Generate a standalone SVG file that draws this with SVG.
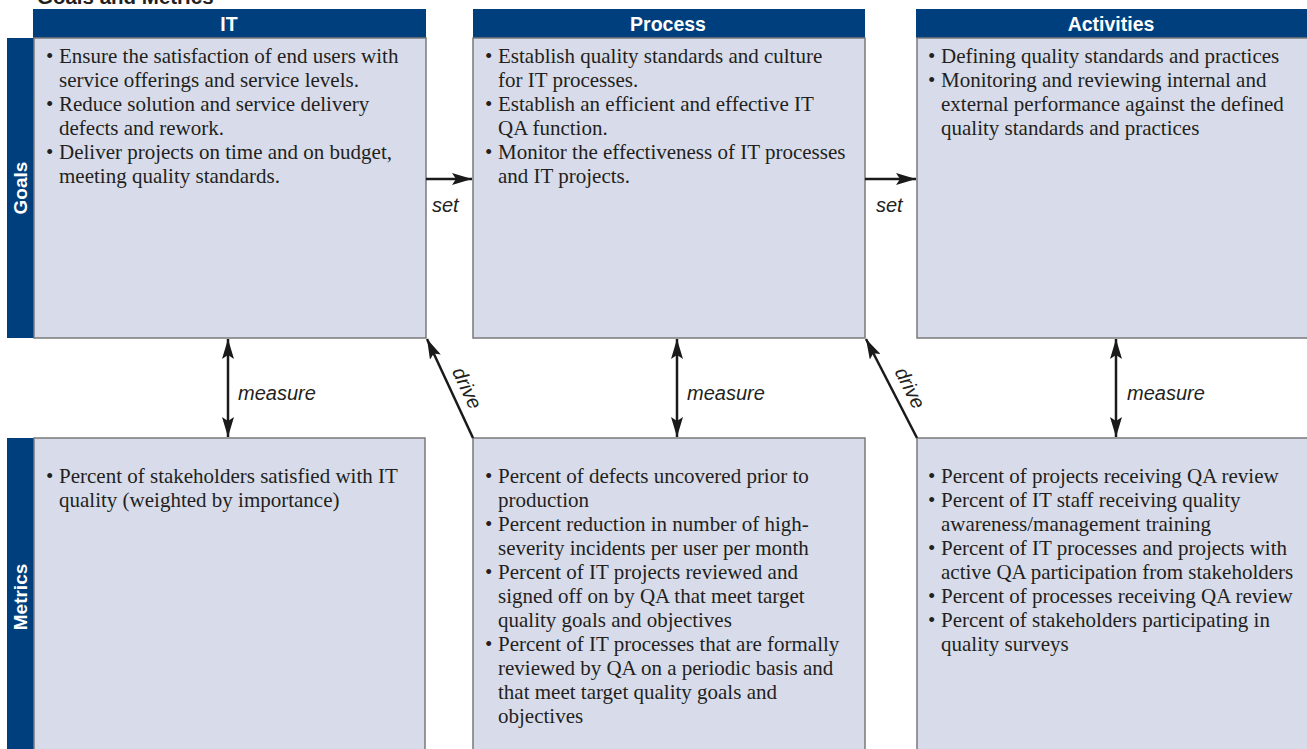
<svg xmlns="http://www.w3.org/2000/svg" width="1307" height="749" viewBox="0 0 1307 749">
<defs>
<style>
.hdr{fill:#003f7d}
.box{fill:#d8dcea;stroke:#7a7a7a;stroke-width:1.5}
.ht{font-family:"Liberation Sans",Arial,sans-serif;font-weight:bold;font-size:19.5px;fill:#fff;text-anchor:middle}
.side{font-family:"Liberation Sans",Arial,sans-serif;font-weight:bold;font-size:19px;fill:#fff;text-anchor:middle}
.bt{font-family:"Liberation Serif","Times New Roman",serif;font-size:21px;fill:#231f20}
.lbl{font-family:"Liberation Sans",Arial,sans-serif;font-style:italic;font-size:20px;fill:#231f20}
.ln{stroke:#1a1a1a;stroke-width:2.5;fill:none}
</style>
<marker id="ah" viewBox="0 0 20 12" refX="20" refY="6" markerWidth="20" markerHeight="12" markerUnits="userSpaceOnUse" orient="auto-start-reverse">
<path d="M0,0 L20,6 L0,12 L4,6 Z" fill="#1a1a1a"/>
</marker>
</defs>
<rect width="1307" height="749" fill="#fff"/>
<text x="37" y="4" font-family="Liberation Sans,Arial,sans-serif" font-weight="bold" font-size="20.5" fill="#231f20">Goals and Metrics</text>

<g id="side-goals"><rect x="7" y="38" width="27" height="300" class="hdr"/><text class="side" transform="translate(27,188) rotate(-90)">Goals</text></g>
<g id="side-metrics"><rect x="7" y="438" width="27" height="311" class="hdr"/><text class="side" transform="translate(27,597) rotate(-90)">Metrics</text></g>

<g id="hdr-it"><rect x="33" y="9" width="393" height="29" class="hdr"/><text class="ht" x="229" y="30.5">IT</text></g>
<g id="hdr-process"><rect x="473" y="9" width="392" height="29" class="hdr"/><text class="ht" x="668" y="30.5">Process</text></g>
<g id="hdr-activities"><rect x="916" y="9" width="391" height="29" class="hdr"/><text class="ht" x="1111" y="30.5">Activities</text></g>

<g id="goals-it"><rect x="34" y="38" width="392" height="300" class="box"/>
<text class="bt"><tspan x="46" y="63">•</tspan><tspan x="59">Ensure the satisfaction of end users with</tspan><tspan x="59" y="87">service offerings and service levels.</tspan><tspan x="46" y="111">•</tspan><tspan x="59">Reduce solution and service delivery</tspan><tspan x="59" y="135">defects and rework.</tspan><tspan x="46" y="159">•</tspan><tspan x="59">Deliver projects on time and on budget,</tspan><tspan x="59" y="183">meeting quality standards.</tspan></text></g>

<g id="goals-process"><rect x="473" y="38" width="392" height="300" class="box"/>
<text class="bt"><tspan x="485" y="63">•</tspan><tspan x="498">Establish quality standards and culture</tspan><tspan x="498" y="87">for IT processes.</tspan><tspan x="485" y="111">•</tspan><tspan x="498">Establish an efficient and effective IT</tspan><tspan x="498" y="135">QA function.</tspan><tspan x="485" y="159">•</tspan><tspan x="498">Monitor the effectiveness of IT processes</tspan><tspan x="498" y="183">and IT projects.</tspan></text></g>

<g id="goals-activities"><rect x="917" y="38" width="395" height="300" class="box"/>
<text class="bt"><tspan x="928" y="63">•</tspan><tspan x="941">Defining quality standards and practices</tspan><tspan x="928" y="87">•</tspan><tspan x="941">Monitoring and reviewing internal and</tspan><tspan x="941" y="111">external performance against the defined</tspan><tspan x="941" y="135">quality standards and practices</tspan></text></g>

<g id="metrics-it"><rect x="34" y="438" width="391" height="320" class="box"/>
<text class="bt"><tspan x="46" y="483">•</tspan><tspan x="59">Percent of stakeholders satisfied with IT</tspan><tspan x="59" y="507">quality (weighted by importance)</tspan></text></g>

<g id="metrics-process"><rect x="473" y="438" width="392" height="320" class="box"/>
<text class="bt"><tspan x="485" y="483">•</tspan><tspan x="498">Percent of defects uncovered prior to</tspan><tspan x="498" y="507">production</tspan><tspan x="485" y="531">•</tspan><tspan x="498">Percent reduction in number of high-</tspan><tspan x="498" y="555">severity incidents per user per month</tspan><tspan x="485" y="579">•</tspan><tspan x="498">Percent of IT projects reviewed and</tspan><tspan x="498" y="603">signed off on by QA that meet target</tspan><tspan x="498" y="627">quality goals and objectives</tspan><tspan x="485" y="651">•</tspan><tspan x="498">Percent of IT processes that are formally</tspan><tspan x="498" y="675">reviewed by QA on a periodic basis and</tspan><tspan x="498" y="699">that meet target quality goals and</tspan><tspan x="498" y="723">objectives</tspan></text></g>

<g id="metrics-activities"><rect x="917" y="438" width="395" height="320" class="box"/>
<text class="bt"><tspan x="928" y="483">•</tspan><tspan x="941">Percent of projects receiving QA review</tspan><tspan x="928" y="507">•</tspan><tspan x="941">Percent of IT staff receiving quality</tspan><tspan x="941" y="531">awareness/management training</tspan><tspan x="928" y="555">•</tspan><tspan x="941">Percent of IT processes and projects with</tspan><tspan x="941" y="579">active QA participation from stakeholders</tspan><tspan x="928" y="603">•</tspan><tspan x="941">Percent of processes receiving QA review</tspan><tspan x="928" y="627">•</tspan><tspan x="941">Percent of stakeholders participating in</tspan><tspan x="941" y="651">quality surveys</tspan></text></g>

<g id="connectors">
<line class="ln" x1="426" y1="179" x2="472" y2="179" marker-end="url(#ah)"/>
<line class="ln" x1="865" y1="179" x2="916" y2="179" marker-end="url(#ah)"/>
<line class="ln" x1="228" y1="339" x2="228" y2="437" marker-start="url(#ah)" marker-end="url(#ah)"/>
<line class="ln" x1="677" y1="339" x2="677" y2="437" marker-start="url(#ah)" marker-end="url(#ah)"/>
<line class="ln" x1="1116" y1="339" x2="1116" y2="437" marker-start="url(#ah)" marker-end="url(#ah)"/>
<line class="ln" x1="473" y1="438" x2="427" y2="339" marker-end="url(#ah)"/>
<line class="ln" x1="917" y1="438" x2="866" y2="339" marker-end="url(#ah)"/>
<text class="lbl" x="432" y="212">set</text>
<text class="lbl" x="876" y="212">set</text>
<text class="lbl" x="238" y="400">measure</text>
<text class="lbl" x="687" y="400">measure</text>
<text class="lbl" x="1127" y="400">measure</text>
<text class="lbl" text-anchor="middle" transform="translate(461,391) rotate(65)">drive</text>
<text class="lbl" text-anchor="middle" transform="translate(904,391) rotate(63)">drive</text>
</g>
</svg>
